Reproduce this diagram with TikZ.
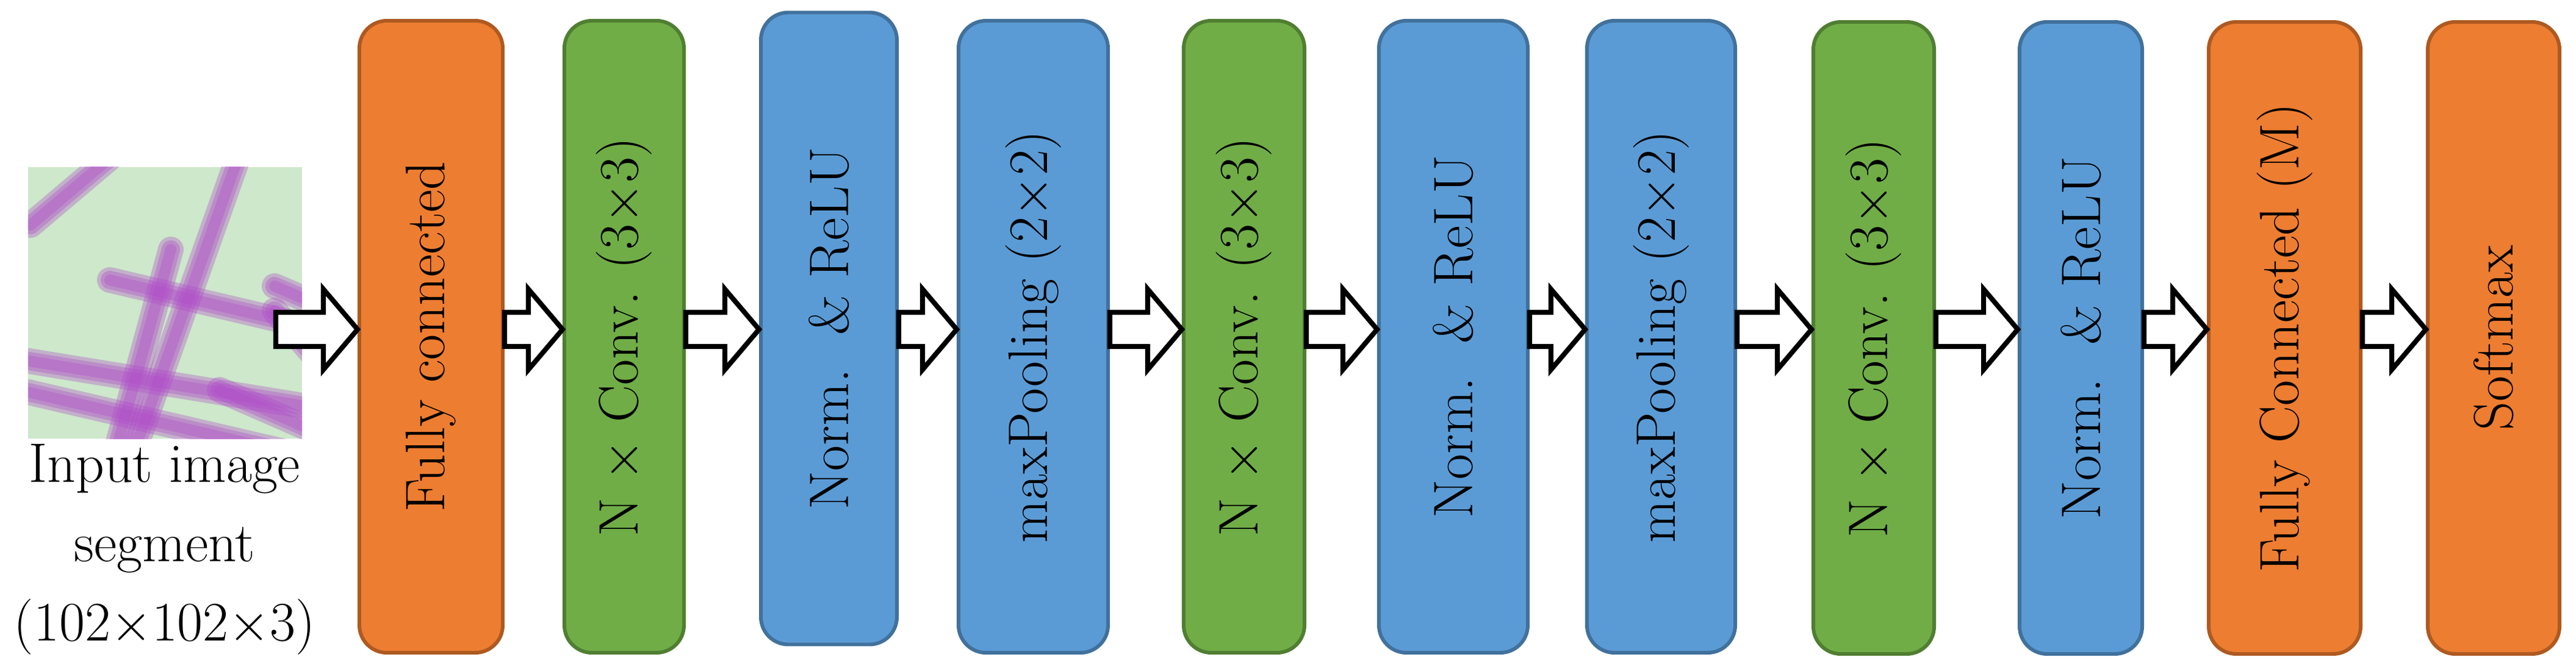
\documentclass[tikz,border=0pt]{standalone}
\usetikzlibrary{calc}
\definecolor{orF}{HTML}{ED7D31}\definecolor{orD}{HTML}{AE5A21}
\definecolor{grF}{HTML}{70AD47}\definecolor{grD}{HTML}{507E32}
\definecolor{blF}{HTML}{5B9BD5}\definecolor{blD}{HTML}{41719C}
\definecolor{bgG}{HTML}{CDE8CB}\definecolor{purp}{HTML}{B04CC8}
\begin{document}
\begin{tikzpicture}[x=1cm,y=1cm,
  box/.style={draw,line width=1.7pt,rounded corners=0.45cm,minimum height=10.36cm,inner sep=0pt,
     font=\fontsize{26}{30}\selectfont},
  orb/.style={box,fill=orF,draw=orD},
  grb/.style={box,fill=grF,draw=grD},
  blb/.style={box,fill=blF,draw=blD},
  fib/.style={line cap=round,purp,opacity=0.35},
  barrow/.style={draw=black,fill=white,line width=2.3pt,line join=miter}]
\useasboundingbox (0,0) rectangle (42.22,10.99);
% input image
\begin{scope}
\clip (0.46,3.80) rectangle (4.95,8.25);
\fill[bgG] (0.46,3.80) rectangle (4.95,8.25);
\foreach \w in {0.42,0.30,0.18}{
\draw[fib,line width=\w cm] (3.9,8.4) -- (2.2,3.6);
\draw[fib,line width=\w cm] (1.8,6.4) -- (5.2,5.6);
\draw[fib,line width=\w cm] (4.5,6.3) -- (5.2,6.0);
\draw[fib,line width=\w cm] (4.5,5.9) -- (5.2,5.1);
\draw[fib,line width=\w cm] (0.3,5.1) -- (5.2,4.3);
\draw[fib,line width=\w cm] (0.3,4.6) -- (4.6,3.6);
\draw[fib,line width=\w cm] (0.5,7.3) -- (1.8,8.4);
\draw[fib,line width=\w cm] (2.8,6.9) -- (1.9,3.6);
\draw[fib,line width=\w cm] (3.6,4.6) -- (5.2,3.9);
}
\end{scope}
\node[align=center,font=\fontsize{26}{37}\selectfont] (inlbl) at (2.70,1.98) {Input image\\segment\\(102$\times$102$\times$3)};
\coordinate (imgR) at (4.52,5.59);
% boxes
\node[orb,minimum width=2.35cm] (fc1) at (7.065,5.47) {\rotatebox{90}{Fully connected}};
\node[grb,minimum width=1.96cm] (cv1) at (10.23,5.47) {\rotatebox{90}{N $\times$ Conv. (3$\times$3)}};
\node[blb,minimum width=2.23cm] (nr1) at (13.585,5.605) {\rotatebox{90}{Norm.\ \ \& ReLU}};
\node[blb,minimum width=2.45cm] (mp1) at (16.935,5.47) {\rotatebox{90}{maxPooling (2$\times$2)}};
\node[grb,minimum width=1.98cm] (cv2) at (20.39,5.47) {\rotatebox{90}{N $\times$ Conv. (3$\times$3)}};
\node[blb,minimum width=2.44cm] (nr2) at (23.82,5.47) {\rotatebox{90}{Norm.\ \ \& ReLU}};
\node[blb,minimum width=2.43cm] (mp2) at (27.225,5.47) {\rotatebox{90}{maxPooling (2$\times$2)}};
\node[grb,minimum width=1.98cm] (cv3) at (30.71,5.45) {\rotatebox{90}{N $\times$ Conv. (3$\times$3)}};
\node[blb,minimum width=2.01cm] (nr3) at (34.105,5.45) {\rotatebox{90}{Norm.\ \ \& ReLU}};
\node[orb,minimum width=2.49cm] (fc2) at (37.445,5.45) {\rotatebox{90}{Fully Connected (M)}};
\node[orb,minimum width=2.16cm] (sm) at (40.87,5.45) {\rotatebox{90}{Softmax}};
% block arrows
\newcommand\blockarr[2]{%
  \draw[barrow] let \p1=(#1), \p2=(#2) in
   (\x1,5.87) -- (\x2-0.56cm,5.87) -- (\x2-0.56cm,6.25) -- (\x2,5.59)
   -- (\x2-0.56cm,4.93) -- (\x2-0.56cm,5.31) -- (\x1,5.31) -- cycle;}
\blockarr{imgR}{fc1.west}
\blockarr{fc1.east}{cv1.west}
\blockarr{cv1.east}{nr1.west}
\blockarr{nr1.east}{mp1.west}
\blockarr{mp1.east}{cv2.west}
\blockarr{cv2.east}{nr2.west}
\blockarr{nr2.east}{mp2.west}
\blockarr{mp2.east}{cv3.west}
\blockarr{cv3.east}{nr3.west}
\blockarr{nr3.east}{fc2.west}
\blockarr{fc2.east}{sm.west}
\end{tikzpicture}
\end{document}
